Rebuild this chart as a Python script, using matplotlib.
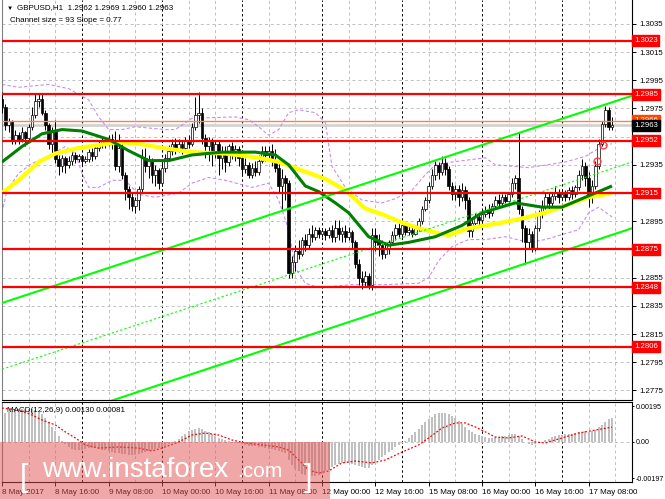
import matplotlib
matplotlib.use('Agg')
import matplotlib.pyplot as plt
import matplotlib.transforms as mtransforms
from matplotlib.patches import Rectangle
import numpy as np

plt.rcParams['font.family'] = ['Liberation Sans', 'DejaVu Sans']

# цены свечей записаны в пунктах над уровнем 1.2800
BASE = 1.2800
PIP = 0.0001

first_open = 182
closes = [176, 163, 166, 152, 156, 153, 158, 154, 162, 170, 180, 182, 172, 163, 150, 160, 139, 134, 140, 135,
          138, 142, 139, 141, 138, 139, 144, 141, 147, 150, 152, 150, 153, 150, 134, 147, 128, 118, 112, 106,
          110, 118, 140, 134, 138, 128, 131, 122, 133, 140, 145, 150, 146, 150, 147, 152, 150, 162, 170, 172,
          154, 148, 152, 144, 150, 140, 145, 137, 148, 143, 146, 140, 132, 135, 128, 133, 130, 138, 145, 142,
          145, 138, 133, 120, 126, 122, 58, 66, 74, 72, 82, 78, 86, 84, 89, 86, 88, 85, 89, 84,
          90, 86, 88, 84, 87, 80, 65, 55, 52, 56, 50, 85, 80, 78, 72, 75, 80, 85, 90, 86,
          92, 87, 89, 86, 90, 95, 104, 110, 120, 128, 135, 130, 136, 132, 120, 114, 118, 112, 117, 110,
          88, 94, 98, 96, 100, 103, 101, 106, 110, 108, 112, 109, 114, 122, 126, 104, 90, 80, 86, 76,
          90, 100, 106, 112, 108, 113, 116, 112, 114, 112, 117, 114, 119, 128, 134, 126, 112, 120, 134, 150,
          164, 174, 162, 163]
highs = [187, 178, 168, 167, 160, 158, 162, 159, 164, 176, 186, 186, 186, 174, 165, 162, 167, 142, 142, 141,
         141, 144, 144, 143, 142, 141, 146, 147, 149, 152, 155, 154, 156, 157, 159, 157, 150, 130, 120, 115,
         112, 120, 146, 147, 142, 140, 135, 133, 138, 143, 149, 153, 154, 153, 152, 155, 156, 165, 183, 187,
         175, 157, 155, 154, 152, 152, 148, 148, 150, 151, 149, 148, 142, 140, 137, 136, 138, 142, 148, 148,
         148, 150, 146, 136, 132, 128, 124, 70, 78, 82, 84, 86, 90, 92, 91, 91, 90, 90, 91, 92,
         96, 96, 91, 92, 91, 89, 82, 68, 60, 60, 58, 90, 90, 86, 82, 80, 82, 88, 93, 94,
         94, 94, 92, 91, 92, 97, 106, 112, 123, 132, 138, 137, 141, 140, 134, 123, 121, 121, 122, 120,
         112, 98, 101, 101, 103, 106, 107, 108, 113, 114, 114, 114, 116, 126, 128, 158, 106, 92, 90, 88,
         92, 103, 110, 116, 115, 116, 120, 118, 117, 117, 119, 120, 121, 131, 139, 137, 130, 124, 138, 153,
         166, 177, 176, 169]
lows = [172, 160, 158, 150, 150, 150, 151, 148, 152, 160, 168, 176, 170, 160, 146, 143, 136, 128, 130, 129,
        133, 135, 136, 137, 135, 136, 137, 138, 139, 145, 147, 147, 148, 146, 131, 130, 125, 110, 104, 102,
        101, 103, 115, 130, 126, 122, 120, 118, 120, 130, 138, 142, 143, 144, 143, 145, 147, 148, 160, 165,
        150, 140, 138, 134, 140, 128, 132, 130, 134, 139, 138, 134, 128, 129, 126, 126, 127, 128, 136, 138,
        139, 134, 130, 116, 104, 110, 55, 55, 60, 68, 70, 74, 76, 80, 82, 83, 84, 82, 83, 80,
        80, 82, 80, 80, 82, 76, 62, 50, 47, 48, 47, 46, 74, 70, 68, 69, 72, 78, 82, 84,
        84, 85, 85, 84, 85, 88, 93, 102, 108, 118, 124, 125, 128, 128, 117, 110, 110, 106, 109, 104,
        84, 84, 90, 92, 94, 98, 97, 99, 104, 105, 106, 106, 107, 112, 118, 100, 80, 65, 76, 73,
        74, 88, 97, 104, 104, 105, 110, 108, 110, 109, 110, 111, 112, 117, 124, 120, 105, 108, 118, 132,
        148, 162, 160, 160]

levels = [1.3023, 1.2985, 1.2952, 1.2915, 1.2875, 1.2848, 1.2806]
price_ticks = [1.3035, 1.3015, 1.2995, 1.2975, 1.2955, 1.2935, 1.2915, 1.2895, 1.2875, 1.2855,
               1.2835, 1.2815, 1.2795, 1.2775]
price_tick_labels = ['1.3035', '1.3015', '1.2995', '1.2975', '', '1.2935', '', '1.2895', '', '1.2855',
                     '1.2835', '1.2815', '1.2795', '1.2775']

time_ticks = [0, 16, 32, 48, 64, 80, 96, 112, 128, 144, 160, 176]
time_labels = ['8 May 2017', '8 May 16:00', '9 May 08:00', '10 May 00:00', '10 May 16:00', '11 May 08:00',
               '12 May 00:00', '12 May 16:00', '15 May 08:00', '16 May 00:00', '16 May 16:00', '17 May 08:00']
day_breaks = [24, 48, 72, 96, 120, 144, 168]

# скользящие средние (бар, пункты)
green_ma_x = [0, 6, 12, 18, 24, 32, 38, 44, 50, 57, 66, 76, 82, 86, 91, 95, 100, 104, 110, 116,
              122, 130, 138, 144, 154, 162, 168, 173, 178, 183]
green_ma_y = [137, 148, 157, 160, 159, 153, 145, 138, 138, 142, 144, 144, 142, 135, 120, 116, 108, 101, 84, 78,
              80, 84, 92, 101, 108, 105, 105, 110, 115, 120]
yellow_ma_x = [0, 5, 11, 16, 23, 29, 35, 41, 48, 57, 67, 77, 83, 90, 97, 103, 109, 114, 120, 125,
               130, 134, 140, 150, 156, 163, 170, 176, 183]
yellow_ma_y = [115, 124, 137, 143, 147, 149, 151, 150, 147, 144, 143, 140, 137, 131, 125, 117, 104, 100, 94, 90,
               87, 85, 90, 94, 97, 101, 107, 112, 115]

# конверт (фиолетовые пунктиры)
band_up_x = [0, 5, 14, 20, 26, 29, 32, 36, 40, 49, 52, 57, 70, 74, 77, 80, 83, 86, 89, 94,
             97, 99, 103, 108, 114, 118, 123, 127, 130, 135, 145, 148, 158, 169, 175, 180, 183]
band_up_y = [192, 190, 192, 189, 181, 169, 160, 160, 162, 160, 160, 168, 169, 167, 162, 156, 160, 172, 174, 172,
             165, 134, 119, 110, 108, 111, 117, 128, 135, 137, 140, 135, 133, 137, 141, 148, 150]
band_lo_x = [0, 1.5, 5, 9, 14, 19, 22, 24, 26, 29, 33, 37, 41, 46, 53, 57, 62, 67, 75, 80,
             83, 86, 88, 91, 95, 105, 115, 125, 128, 131, 135, 140, 145, 151, 158, 163, 173, 176, 179, 183]
band_lo_y = [101, 117, 129, 136, 141, 148, 143, 129, 119, 119, 124, 124, 114, 112, 115, 122, 126, 124, 119, 122,
             110, 89, 62, 51, 48, 50, 50, 51, 55, 67, 77, 82, 82, 84, 80, 82, 89, 101, 105, 98]

# ценовой канал
channel_x = [0, 189]
channel_upper = [1.2837, 1.2984]
channel_mid = [1.2790, 1.2937]
channel_lower = [1.2742, 1.2890]

marks_x = [178.5, 180.3]
marks_y = [138, 149]

# MACD, в единицах 1e-5
macd_hist = [150, 158, 165, 170, 174, 177, 180, 181, 180, 178, 175,
             165, 150, 130, 108, 82, 58, 32,
             8, -12, -26, -36, -42, -44, -42,
             -38, -34, -32, -34, -38, -42, -46, -50,
             -52, -58, -60, -64, -68, -72, -72, -70, -66,
             -58, -52, -48, -44, -40, -34, -28, -20, -12,
             -4, 6, 16, 30, 45, 58, 66, 72,
             74, 70, 62, 52, 42, 32, 24, 16,
             10, 4, 0, -4, -8, -12, -16, -20,
             -22, -24, -26, -28, -32, -36, -40, -42, -50,
             -56, -62, -100, -125, -145, -160, -172,
             -180, -184, -186, -185, -180, -172, -160,
             -150, -138, -128, -120, -114, -112, -114,
             -118, -124, -132, -138, -142, -140, -126,
             -112, -98, -84, -70, -56, -42, -28,
             -16, -4, 8, 22, 38, 55, 72,
             90, 108, 124, 138, 150, 156, 158,
             156, 150, 142, 130, 115, 100, 84,
             66, 54, 46, 40, 34, 28, 24,
             24, 26, 28, 30, 34, 40, 44,
             44, 30, 14, 0, -10, -14, -12,
             -6, 2, 10, 18, 26, 32, 36,
             40, 42, 44, 46, 48, 52, 56,
             58, 56, 60, 68, 80, 94, 110, 124, 130]
signal_x = [0, 5, 9, 12, 16, 19, 22, 25, 29, 35, 41, 45, 48, 53, 57, 61, 65, 69, 73, 78,
            83, 86, 89, 92, 95, 98, 102, 106, 111, 115, 120, 125, 128, 132, 136, 139, 142, 145, 148, 152,
            156, 160, 163, 168, 173, 178, 183]
signal_y = [185, 174, 147, 120, 93, 55, 22, -16, -33, -27, -33, -49, -33, 0, 38, 49, 38, 11, -5, -16,
            -27, -44, -98, -153, -169, -158, -114, -104, -114, -98, -55, -16, 22, 76, 104, 104, 82, 55, 27, 22,
            33, 0, -5, 22, 49, 65, 81]

W, H = 665, 499
fig = plt.figure(figsize=(W / 100, H / 100), dpi=100)
fig.patch.set_facecolor('white')
ax = fig.add_axes([2 / W, 99 / H, 630 / W, 400 / H])
ax2 = fig.add_axes([2 / W, 17 / H, 630 / W, 80 / H])

n = len(closes)
idx = np.arange(n)
c = BASE + np.array(closes) * PIP
o = BASE + np.array([first_open] + closes[:-1]) * PIP
hi = BASE + np.array(highs) * PIP
lo = BASE + np.array(lows) * PIP

XMAX = 189
ax.set_xlim(0, XMAX)
ax.set_ylim(1.27682, 1.30519)

grid_kw = dict(color='#c0c0c0', lw=0.7, linestyle=(0, (3, 3)), zorder=0)
sep_kw = dict(color='black', lw=0.7, linestyle=(0, (2.5, 2.5)), zorder=0)
for a in (ax, ax2):
    for g in range(0, XMAX, 8):
        if g in day_breaks or g == 0:
            continue
        a.axvline(g, **grid_kw)
    for d in day_breaks:
        a.axvline(d, **sep_kw)
for p in price_ticks:
    ax.axhline(p, **grid_kw)

# свечи
up = c >= o
ax.vlines(idx, lo, hi, color='black', lw=0.7, zorder=3)
body_h = np.maximum(np.abs(c - o), 0.00003)
ax.bar(idx[~up], body_h[~up], bottom=np.minimum(o, c)[~up], width=0.72,
       color='black', edgecolor='black', lw=0.5, zorder=4)
ax.bar(idx[up], body_h[up], bottom=np.minimum(o, c)[up], width=0.72,
       color='white', edgecolor='black', lw=0.5, zorder=4)

# конверт
ax.plot(band_up_x, BASE + np.array(band_up_y) * PIP, color='#c98cf0', lw=0.8, linestyle=(0, (3, 2)), zorder=2)
ax.plot(band_lo_x, BASE + np.array(band_lo_y) * PIP, color='#c98cf0', lw=0.8, linestyle=(0, (3, 2)), zorder=2)

# средние
ax.plot(yellow_ma_x, BASE + np.array(yellow_ma_y) * PIP, color='#ffff00', lw=3.0, zorder=5,
        solid_capstyle='butt')
ax.plot(green_ma_x, BASE + np.array(green_ma_y) * PIP, color='#007f00', lw=2.2, zorder=5,
        solid_capstyle='butt')

# канал
ax.plot(channel_x, channel_upper, color='#00ff00', lw=1.5, zorder=6)
ax.plot(channel_x, channel_lower, color='#00ff00', lw=1.5, zorder=6)
ax.plot(channel_x, channel_mid, color='#00ff00', lw=0.8, linestyle=(0, (2, 2)), zorder=6)

# уровни
for lv in levels:
    ax.axhline(lv, color='#ff0000', lw=1.6, zorder=7)
ax.axhline(1.2966, color='#ff7f50', lw=1.0, zorder=6)
ax.axhline(1.2963, color='#d3d3d3', lw=2.0, zorder=1)

for mx, my in zip(marks_x, marks_y):
    ax.plot(mx, BASE + my * PIP, marker='o', ms=5, mfc='none', mec='#ff4040', mew=1.0, zorder=8)

# правая ось
ax.yaxis.tick_right()
ax.set_yticks(price_ticks, price_tick_labels)
ax.tick_params(axis='y', length=3, width=0.7, pad=2, labelsize=5.6, colors='black', direction='out')
ax.set_xticks([])
ax.spines['top'].set_visible(False)
ax.spines['left'].set_color('#808080')
for s in ('right', 'bottom'):
    ax.spines[s].set_color('black')
    ax.spines[s].set_linewidth(0.8)

tr = mtransforms.blended_transform_factory(ax.transAxes, ax.transData)
for lv in levels:
    ax.text(1.003, lv, f'{lv:.4f}', transform=tr, ha='left', va='center', fontsize=5.6, color='white',
            clip_on=False, zorder=10,
            bbox=dict(boxstyle='square,pad=0.25', fc='#ff0000', ec='#ff0000'))
ax.text(1.003, 1.29665, '1.2966', transform=tr, ha='left', va='center', fontsize=5.6, color='white',
        clip_on=False, zorder=10, bbox=dict(boxstyle='square,pad=0.25', fc='#ff4500', ec='#ff4500'))
ax.text(1.003, 1.2963, '1.2963', transform=tr, ha='left', va='center', fontsize=5.6, color='white',
        clip_on=False, zorder=11, bbox=dict(boxstyle='square,pad=0.25', fc='black', ec='black'))

ax.text(5 / 630, 0.98, '\u25bc', transform=ax.transAxes, fontsize=4.5, ha='left', va='center')
ax.text(15 / 630, 0.98, 'GBPUSD,H1  1.2962 1.2969 1.2960 1.2963', transform=ax.transAxes,
        fontsize=5.8, ha='left', va='center')
ax.text(8 / 630, 0.95, 'Channel size = 93 Slope = 0.77', transform=ax.transAxes,
        fontsize=5.8, ha='left', va='center')

# MACD
hv = np.array(macd_hist) * 1e-5
ax2.set_xlim(0, XMAX)
ax2.set_ylim(-0.00218, 0.00218)
ax2.bar(idx, hv, width=0.55, color='#c0c0c0', zorder=2)
ax2.plot(signal_x, np.array(signal_y) * 1e-5, color='#ff0000', lw=0.9, linestyle=(0, (1.5, 1.5)), zorder=3)
ax2.axhline(0, **grid_kw)
ax2.yaxis.tick_right()
ax2.set_yticks([0.00195, 0.0, -0.00197], ['0.00195', '0.00', '-0.00197'])
ax2.tick_params(axis='y', length=1.5, width=0.7, pad=1, labelsize=5.1, direction='out')
ax2.set_xticks(time_ticks, time_labels)
ax2.tick_params(axis='x', length=3, width=0.7, pad=2, labelsize=5.8, direction='out')
for lab in ax2.get_xticklabels():
    lab.set_ha('left')
ax2.spines['left'].set_color('#808080')
for s in ('right', 'bottom', 'top'):
    ax2.spines[s].set_color('black')
    ax2.spines[s].set_linewidth(0.8)
ax2.text(5 / 630, 0.9, 'MACD(12,26,9) 0.00130 0.00081', transform=ax2.transAxes, fontsize=5.8,
         ha='left', va='center')

# водяной знак
fig.patches.append(Rectangle((0, 0), 330 / W, 57 / H, transform=fig.transFigure,
                             fc='#e05050', ec='none', alpha=0.5, zorder=20))
fig.text(20 / W, 21 / H, '[', fontsize=22, color='white', ha='left', va='center', zorder=21)
fig.text(42 / W, 22 / H, 'www.instaforex', fontsize=20, color='white', ha='left', va='baseline', zorder=21)
fig.text(237 / W, 22 / H, '.com', fontsize=15, color='white', ha='left', va='baseline', zorder=21)
fig.text(304 / W, 21 / H, ']', fontsize=22, color='white', ha='left', va='center', zorder=21)

fig.savefig('out.png', dpi=100)
